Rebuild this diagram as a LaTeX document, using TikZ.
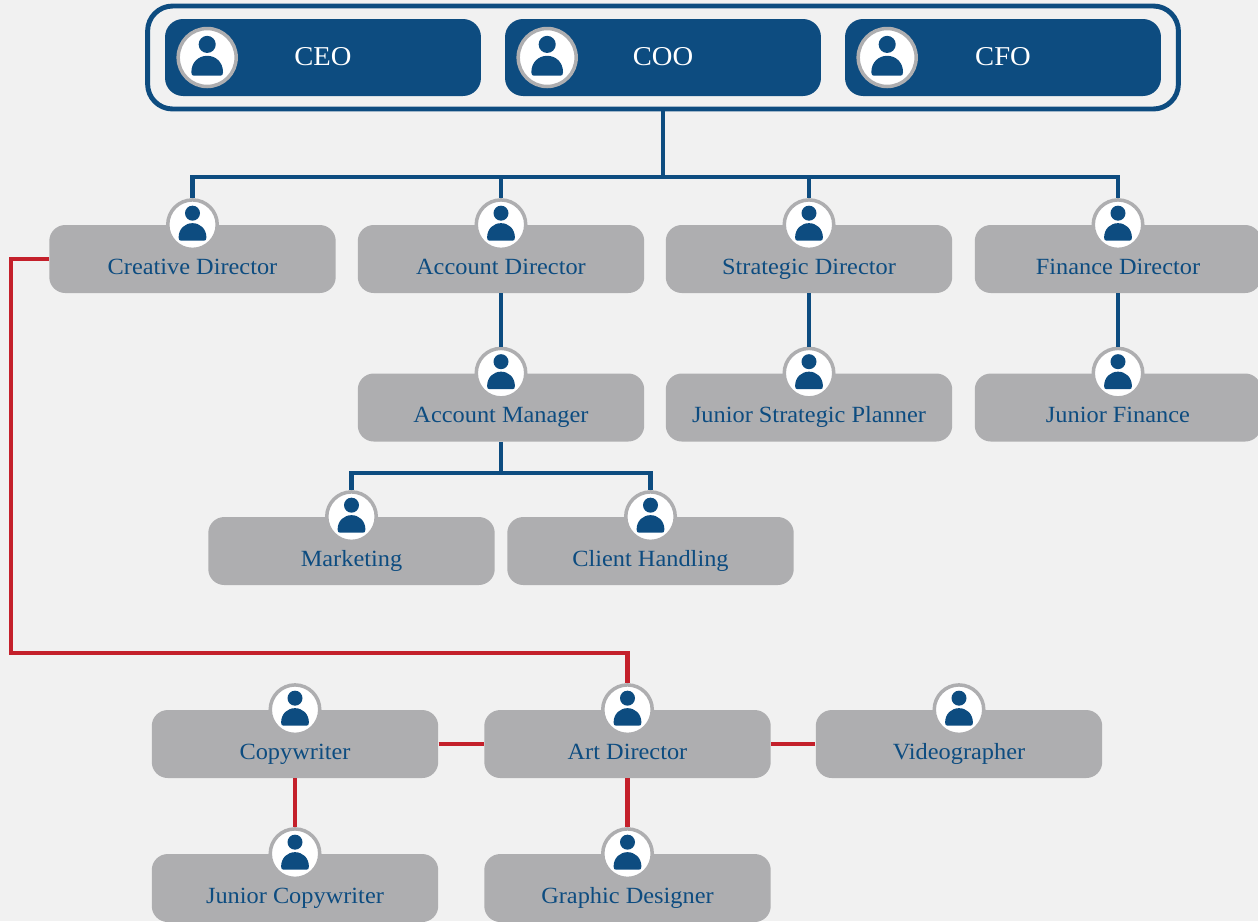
\documentclass[tikz,border=0pt]{standalone}
\usepackage{fontspec}
\setmainfont[FakeStretch=1.05]{Liberation Serif}
\usetikzlibrary{calc}
\definecolor{navyblue}{HTML}{0D4C80}
\definecolor{boxgrey}{HTML}{AEAEB0}
\definecolor{linered}{HTML}{C4202B}
\definecolor{pagegrey}{HTML}{F1F1F1}
\tikzset{
  rolebox/.style={rectangle,fill=boxgrey,text=navyblue,rounded corners=.32cm,inner sep=0pt,
    minimum width=5.73cm,minimum height=1.36cm,text height=.98cm,text depth=.38cm,
    font=\fontsize{13.2}{15}\selectfont},
  chiefbox/.style={rectangle,fill=navyblue,text=white,rounded corners=.36cm,inner sep=0pt,
    minimum width=6.32cm,minimum height=1.54cm,text height=.92cm,text depth=.62cm,
    font=\fontsize{15.5}{18}\selectfont},
  boardbox/.style={rectangle,draw=navyblue,line width=2.8pt,rounded corners=.5cm,inner sep=0pt,
    minimum width=20.62cm,minimum height=2.06cm},
  iconring/.style={circle,draw=boxgrey,fill=white,line width=2pt,inner sep=0pt,minimum size=.99cm},
  bigring/.style={iconring,minimum size=1.16cm},
  navyline/.style={draw=navyblue,line width=2.8pt},
  redline/.style={draw=linered,line width=2.8pt},
  personfig/.pic={
    \fill[navyblue] (0,-11.5) circle[radius=7.5];
    \fill[navyblue] (-13.9,13) .. controls (-13.9,4) and (-7.5,-1.5) .. (0,-1.5)
      .. controls (7.5,-1.5) and (13.9,4) .. (13.9,13)
      .. controls (13.9,15.2) and (13,16) .. (11.5,16) -- (-11.5,16)
      .. controls (-13,16) and (-13.9,15.2) .. (-13.9,13) -- cycle;
  }
}
\begin{document}
\begin{tikzpicture}[x=.02cm,y=-.02cm]
  \useasboundingbox (0,0) rectangle (1258,921);
  \clip (0,0) rectangle (1258,921);
  \fill[pagegrey] (0,0) rectangle (1258,921);
  \node[boardbox] (board) at (663,57.5) {};
  \foreach \nm/\px/\txt in {ceo/323/CEO,coo/663/COO,cfo/1003/CFO}{%
    \node[chiefbox] (\nm) at (\px,57.5) {\txt};
    \node[bigring] (\nm-i) at ($(\nm.west)+(42.5,0)$) {};
    \pic[scale=1.14] at (\nm-i) {personfig};
  }
  \foreach \nm/\px/\py/\txt in {%
    cd/192.5/259/Creative Director,
    ad/501/259/Account Director,
    sd/809/259/Strategic Director,
    fd/1118/259/Finance Director,
    am/501/407.5/Account Manager,
    sp/809/407.5/Junior Strategic Planner,
    jf/1118/407.5/Junior Finance,
    mk/351.5/551/Marketing,
    ch/650.5/551/Client Handling,
    cw/295/744/Copywriter,
    ar/627.5/744/Art Director,
    vg/959/744/Videographer,
    jc/295/888/Junior Copywriter,
    gd/627.5/888/Graphic Designer}{%
    \node[rolebox] (\nm) at (\px,\py) {\txt};
    \node[iconring] (\nm-i) at (\nm.north) {};
    \pic at (\nm-i) {personfig};
  }
  \coordinate (topbus) at (663,177);
  \coordinate (midbus) at (501,473);
  \coordinate (redbend) at (11,653);
  \draw[navyline] (board.south-|topbus) -- (topbus);
  \draw[navyline] (topbus) -| (cd-i);
  \draw[navyline] (topbus) -| (ad-i);
  \draw[navyline] (topbus) -| (sd-i);
  \draw[navyline] (topbus) -| (fd-i);
  \draw[navyline] (ad) -- (am-i);
  \draw[navyline] (sd) -- (sp-i);
  \draw[navyline] (fd) -- (jf-i);
  \draw[navyline] (am) -- (midbus);
  \draw[navyline] (mk-i) |- (midbus) -| (ch-i);
  \draw[redline] (cd.west) -| (redbend) -| (ar-i);
  \draw[redline] (cw) -- (ar);
  \draw[redline] (ar) -- (vg);
  \draw[redline] (cw) -- (jc-i);
  \draw[redline] (ar) -- (gd-i);
\end{tikzpicture}
\end{document}
